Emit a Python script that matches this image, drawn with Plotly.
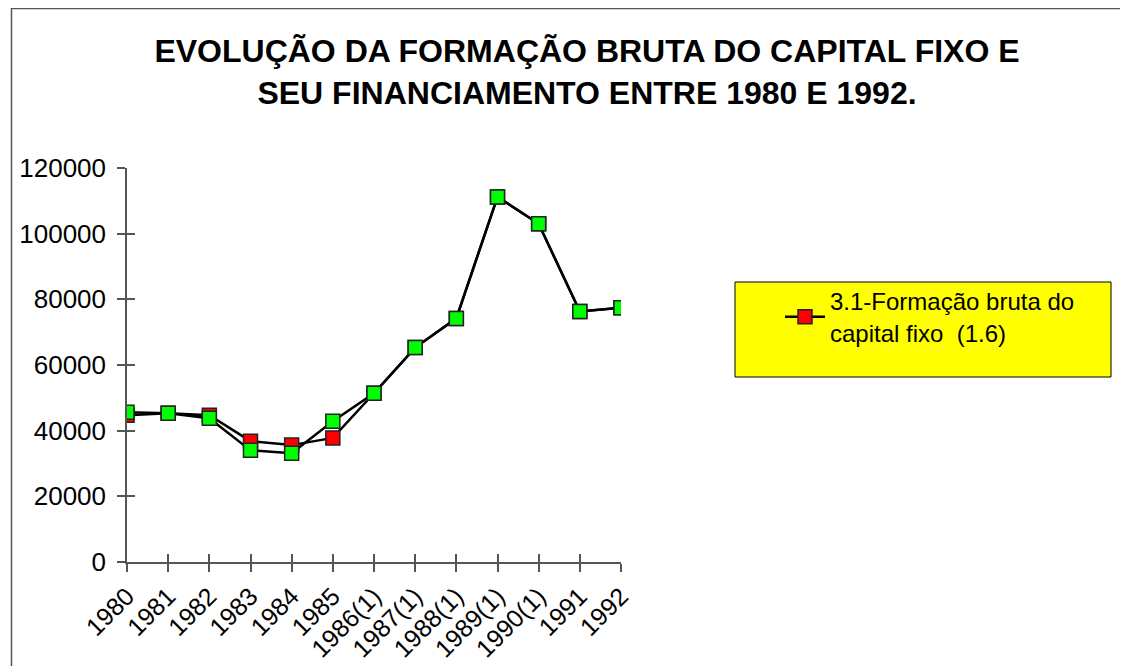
import plotly.graph_objects as go

years = ["1980", "1981", "1982", "1983", "1984", "1985", "1986(1)", "1987(1)",
         "1988(1)", "1989(1)", "1990(1)", "1991", "1992"]
fbcf = [44700, 45300, 44700, 36800, 35600, 37800, 51400, 65300, 74200, 111200, 103000, 76300, 77400]
financiamento = [45600, 45300, 43800, 34000, 33100, 42900, 51400, 65300, 74200, 111200, 103000, 76300, 77400]
yticks = [0, 20000, 40000, 60000, 80000, 100000, 120000]

xpos = list(range(len(years)))

W, H = 1128, 666
OFF = 8  # page body margin
# plot area in page pixel coords
PL, PR, PT, PB = 127, 621, 168, 562
L, R, T, B = PL - OFF, PR - OFF, PT - OFF, PB - OFF
pw, ph = R - L, B - T


def px(x):  # page pixel -> paper x
    return (x - OFF - L) / pw


def py(y):  # page pixel -> paper y
    return (B - (y - OFF)) / ph


fig = go.Figure()
fig.add_trace(go.Scatter(
    x=xpos, y=fbcf, mode="lines+markers",
    name="3.1-Formação bruta do<br>capital fixo  (1.6)",
    line=dict(color="black", width=2.5),
    marker=dict(symbol="square", size=14, color="#ff0000", line=dict(color="#222", width=1.5)),
))
fig.add_trace(go.Scatter(
    x=xpos, y=financiamento, mode="lines+markers", showlegend=False,
    line=dict(color="black", width=2.5),
    marker=dict(symbol="square", size=14, color="#00ff00", line=dict(color="#222", width=1.5)),
))
# invisible trace so the cross-tick overlay axes are drawn
fig.add_trace(go.Scatter(x=[None], y=[None], xaxis="x2", yaxis="y2", showlegend=False, hoverinfo="skip"))

font = "Arial, Liberation Sans, sans-serif"
fig.update_layout(
    width=W, height=H,
    margin=dict(l=L, r=W - R, t=T, b=H - B),
    paper_bgcolor="white", plot_bgcolor="white",
    font=dict(family=font, color="black"),
    title=dict(
        text="<b>EVOLUÇÃO DA FORMAÇÃO BRUTA DO CAPITAL FIXO E<br>SEU FINANCIAMENTO ENTRE 1980 E 1992.</b>",
        x=(587 - OFF) / W, xanchor="center", y=1 - 54 / H, yanchor="middle",
        font=dict(size=32, family=font, color="black"),
    ),
    xaxis=dict(
        range=[0, 12], tickvals=xpos, ticktext=years, tickangle=-45,
        showgrid=False, zeroline=False, showline=True, linecolor="#555", linewidth=1.5,
        ticks="outside", ticklen=8, tickcolor="#555", tickwidth=1.5,
        tickfont=dict(size=25, family=font),
    ),
    yaxis=dict(
        range=[0, 120000], tickvals=yticks, ticktext=[str(v) for v in yticks],
        showgrid=False, zeroline=False, showline=True, linecolor="#555", linewidth=1.5,
        ticks="outside", ticklen=8, tickcolor="#555", tickwidth=1.5,
        tickfont=dict(size=26, family=font), ticklabelstandoff=6,
    ),
    xaxis2=dict(
        overlaying="x", anchor="y2", range=[0, 12], tickvals=xpos, showticklabels=False,
        showgrid=False, zeroline=False, showline=False,
        ticks="inside", ticklen=8, tickcolor="#555", tickwidth=1.5,
    ),
    yaxis2=dict(
        overlaying="y", anchor="x2", range=[0, 120000], tickvals=yticks, showticklabels=False,
        showgrid=False, zeroline=False, showline=False,
        ticks="inside", ticklen=8, tickcolor="#555", tickwidth=1.5,
    ),
    showlegend=True,
    legend=dict(
        x=px(780), y=py(279), xanchor="left", yanchor="top",
        bgcolor="rgba(0,0,0,0)", borderwidth=0,
        font=dict(size=24, family=font), itemwidth=40, tracegroupgap=0,
    ),
    shapes=[
        dict(type="rect", xref="paper", yref="paper",
             x0=px(735), x1=px(1111), y0=py(377), y1=py(282),
             fillcolor="#ffff00", line=dict(color="black", width=1), layer="below"),
        dict(type="rect", xref="paper", yref="paper",
             x0=px(11.5), x1=px(1150), y0=py(700), y1=py(8.5),
             fillcolor="rgba(0,0,0,0)", line=dict(color="#555", width=1.5), layer="below"),
    ],
)

fig.write_html("out.html")
